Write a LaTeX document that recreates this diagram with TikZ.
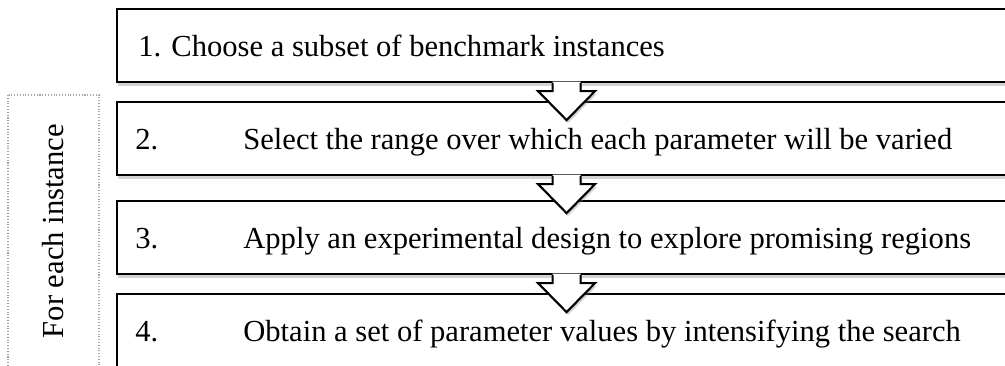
\documentclass[tikz,border=0pt]{standalone}
\usepackage{fontspec}
\setmainfont{Liberation Serif}
\usetikzlibrary{calc,shadows}
\tikzset{
  stepbox/.style={draw, line width=1.2pt, fill=white, rectangle, inner sep=0pt,
    minimum width=17.98cm, minimum height=1.46cm, anchor=north west,
    drop shadow={shadow xshift=0.02cm, shadow yshift=-0.07cm, opacity=0.35}},
  steptext/.style={anchor=base west, inner sep=0pt, font=\fontsize{17.4}{21}\selectfont},
  loopbox/.style={draw=gray!70, densely dotted, line width=0.6pt, rotate=90,
    minimum width=5.45cm, minimum height=1.82cm, font=\fontsize{17.4}{21}\selectfont},
  arrowshadow/.style={drop shadow={shadow xshift=0.03cm, shadow yshift=-0.06cm, opacity=0.35}}
}

\begin{document}
\begin{tikzpicture}
\useasboundingbox (0,0) rectangle (20.1,7.3);
\clip (0,0) rectangle (20.1,7.3);
\node[loopbox] (loop) at (1.07,2.675) {For each instance};
\node[stepbox] (s1) at (2.32,7.14) {};
\node[stepbox] (s2) at (2.32,5.28) {};
\node[stepbox] (s3) at (2.32,3.30) {};
\node[stepbox] (s4) at (2.32,1.44) {};
\node[steptext] (t1) at ($(s1.west)+(0.44,-0.21)$) {1. Choose a subset of benchmark instances};
\node[steptext] (n2) at ($(s2.west)+(0.38,-0.21)$) {2.};
\node[steptext] (t2) at ($(s2.west)+(2.54,-0.21)$) {Select the range over which each parameter will be varied};
\node[steptext] (n3) at ($(s3.west)+(0.38,-0.21)$) {3.};
\node[steptext] (t3) at ($(s3.west)+(2.54,-0.21)$) {Apply an experimental design to explore promising regions};
\node[steptext] (n4) at ($(s4.west)+(0.38,-0.21)$) {4.};
\node[steptext] (t4) at ($(s4.west)+(2.54,-0.21)$) {Obtain a set of parameter values by intensifying the search};
\foreach \a in {s1,s2,s3} {
\begin{scope}[shift={(\a.south)}]
\fill[white, arrowshadow] (-0.28,0.03) -- (-0.28,-0.16) -- (-0.57,-0.16) -- (0,-0.74) -- (0.57,-0.16) -- (0.28,-0.16) -- (0.28,0.03) -- cycle;
\draw[line width=1.2pt] (-0.28,0) -- (-0.28,-0.16) -- (-0.57,-0.16) -- (0,-0.74) -- (0.57,-0.16) -- (0.28,-0.16) -- (0.28,0);
\end{scope}
}
\end{tikzpicture}
\end{document}
